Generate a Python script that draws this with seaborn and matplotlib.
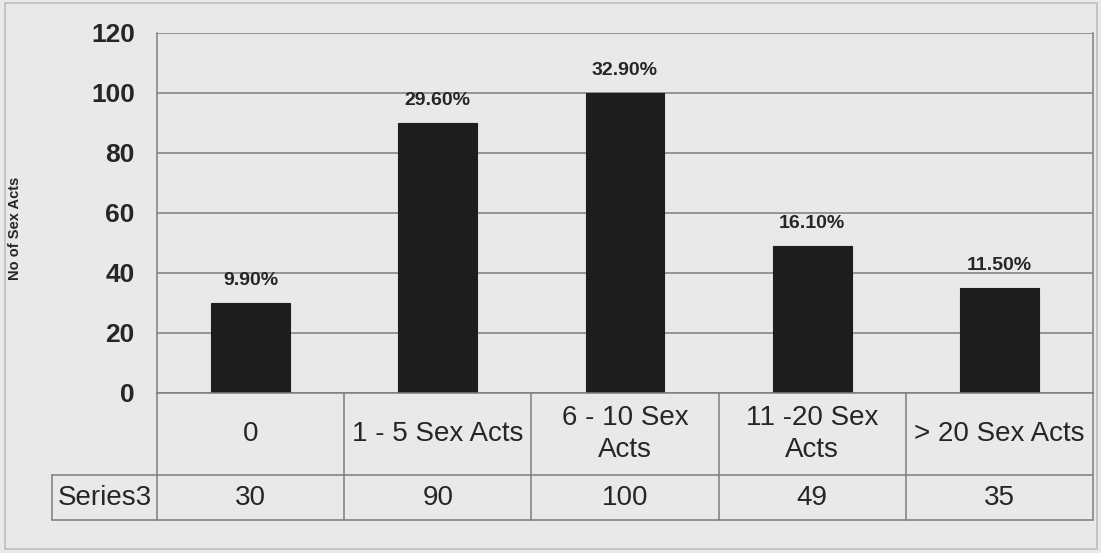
import matplotlib
matplotlib.use("Agg")
import matplotlib.pyplot as plt
import matplotlib.transforms as mtransforms
from matplotlib.patches import Rectangle
import seaborn as sns
import pandas as pd

# Data
categories = ["0", "1 - 5 Sex Acts", "6 - 10 Sex\nActs", "11 -20 Sex\nActs", "> 20 Sex Acts"]
series_name = "Series3"
values = [30, 90, 100, 49, 35]
pct_labels = ["9.90%", "29.60%", "32.90%", "16.10%", "11.50%"]
y_ticks = [0, 20, 40, 60, 80, 100, 120]
y_label = "No of Sex Acts"

sns.set_style("white")
plt.rcParams["font.family"] = ["Liberation Sans", "DejaVu Sans"]

bg = "#e9e9e9"
line_c = "#7d7d7d"
text_c = "#262626"
bar_c = "#1d1d1d"

W, H = 1101, 553
fig = plt.figure(figsize=(W / 100, H / 100), dpi=100, facecolor=bg)

# plot area in pixel terms
x0, x1, y_top, y_bot = 157, 1093, 33, 393
ax = fig.add_axes([x0 / W, 1 - y_bot / H, (x1 - x0) / W, (y_bot - y_top) / H])
ax.set_facecolor(bg)

df = pd.DataFrame({"category": categories, "count": values})
sns.barplot(data=df, x="category", y="count", color=bar_c, width=0.42,
            saturation=1, ax=ax, edgecolor=bar_c, linewidth=0.8)

ax.set_xlim(-0.5, len(categories) - 0.5)
ax.set_ylim(0, 120)
ax.set_yticks(y_ticks)
ax.set_yticklabels([str(t) for t in y_ticks], fontsize=19, fontweight="bold", color=text_c)
ax.tick_params(axis="y", direction="out", length=7, width=1.1, color=line_c, pad=9)
ax.tick_params(axis="x", bottom=False, labelbottom=False)
ax.set_xlabel("")
ax.set_ylabel("")
ax.yaxis.grid(True, color=line_c, linewidth=1.1)
ax.set_axisbelow(True)
for s in ax.spines.values():
    s.set_color(line_c)
    s.set_linewidth(1.1)
ax.spines["top"].set_visible(False)

# percentage labels above bars
ax.bar_label(ax.containers[0], labels=pct_labels, padding=10,
             fontsize=14, fontweight="bold", color=text_c)

# data table beneath the axis
plot_h = y_bot - y_top
def ay(py):
    return (y_bot - py) / plot_h

row_sep = ay(475)
tbl_bot = ay(520)
left_edge = (52 - x0) / (x1 - x0)
blend = mtransforms.blended_transform_factory(ax.transData, ax.transAxes)

lk = dict(color=line_c, linewidth=1.1, clip_on=False)
# vertical cell borders
for b in [i - 0.5 for i in range(len(categories) + 1)]:
    ax.plot([b, b], [0, tbl_bot], transform=blend, **lk)
# horizontal borders of the series row
ax.plot([left_edge, 1], [row_sep, row_sep], transform=ax.transAxes, **lk)
ax.plot([left_edge, 1], [tbl_bot, tbl_bot], transform=ax.transAxes, **lk)
ax.plot([left_edge, left_edge], [row_sep, tbl_bot], transform=ax.transAxes, **lk)

cat_y = ay(434)
val_y = ay(498)
for i, (c, v) in enumerate(zip(categories, values)):
    ax.text(i, cat_y, c, transform=blend, ha="center", va="center",
            fontsize=20, color=text_c, linespacing=1.3)
    ax.text(i, val_y, str(v), transform=blend, ha="center", va="center",
            fontsize=20, color=text_c)
ax.text((left_edge + 0) / 2, val_y, series_name, transform=ax.transAxes,
        ha="center", va="center", fontsize=20, color=text_c)

# axis title
fig.text(15 / W, 1 - 228 / H, y_label, rotation=90, ha="center", va="center",
         fontsize=10.5, fontweight="bold", color=text_c)

# outer frame of the chart
fig.patches.append(Rectangle((5 / W, 1 - 549 / H), 1092 / W, 546 / H,
                             transform=fig.transFigure, fill=False,
                             edgecolor="#bdbdbd", linewidth=1.2))

fig.savefig("out.png", dpi=100, facecolor=bg)
